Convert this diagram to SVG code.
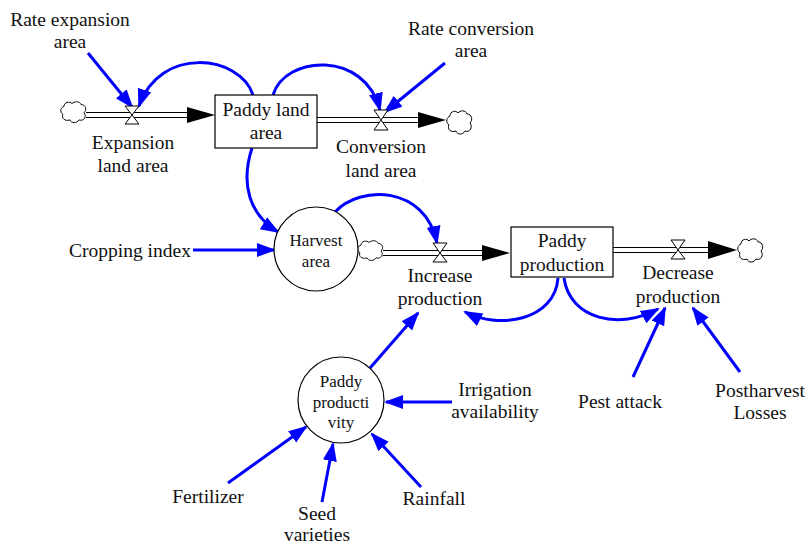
<svg xmlns="http://www.w3.org/2000/svg" width="807" height="545" viewBox="0 0 807 545">
<style>
text{font-family:'Liberation Serif','Times New Roman',serif;font-size:19.5px;fill:#111;text-anchor:middle}
text.sm{font-size:17px}
.link{fill:none;stroke:#0000FF;stroke-width:3;marker-end:url(#ah)}
.pipe{stroke:#000;stroke-width:1.2;fill:none}
.valve{fill:#fff;stroke:#000;stroke-width:1}
.cloud{fill:#fff;stroke:#000;stroke-width:1}
.box{fill:#fff;stroke:#000;stroke-width:1.2}
.aux{fill:#fff;stroke:#000;stroke-width:1.2}
</style>
<defs>
<marker id="ah" markerUnits="userSpaceOnUse" markerWidth="20" markerHeight="16" refX="17" refY="7" orient="auto">
<path d="M0,0 L19,7 L0,14 Z" fill="#0000FF"/>
</marker>
<path id="cl" d="M4,6 C4,1 10,0 12,3 C14,0 20,0 21,4 C26,4 27,10 24,13 C27,17 24,23 19,21 C17,25 11,25 10,21 C5,23 1,19 3,15 C-1,12 1,7 4,6 Z"/>
</defs>
<rect width="807" height="545" fill="#fff"/>

<g id="flows">
<line class="pipe" x1="86" y1="112.5" x2="190" y2="112.5"/>
<line class="pipe" x1="86" y1="117.5" x2="190" y2="117.5"/>
<polygon points="187,107 215,115 187,123" fill="#000"/>
<line class="pipe" x1="317" y1="117.5" x2="420" y2="117.5"/>
<line class="pipe" x1="317" y1="122.5" x2="420" y2="122.5"/>
<polygon points="418,112 446,120 418,128" fill="#000"/>
<line class="pipe" x1="383" y1="250.5" x2="485" y2="250.5"/>
<line class="pipe" x1="383" y1="255.5" x2="485" y2="255.5"/>
<polygon points="482,245 510,253 482,261" fill="#000"/>
<line class="pipe" x1="613" y1="247.5" x2="710" y2="247.5"/>
<line class="pipe" x1="613" y1="252.5" x2="710" y2="252.5"/>
<polygon points="708,241 737,250 708,259" fill="#000"/>
</g>

<g id="clouds">
<use href="#cl" class="cloud" transform="translate(60,101) scale(1,0.9)"/>
<use href="#cl" class="cloud" transform="translate(446,110)"/>
<use href="#cl" class="cloud" transform="translate(357,240) scale(1,0.85)"/>
<use href="#cl" class="cloud" transform="translate(737,238)"/>
</g>

<g id="connectors">
<path class="link" d="M88,53 L132,107"/>
<path class="link" d="M253,95 C240,55 160,45 139,106"/>
<path class="link" d="M273,95 C285,55 365,50 380,110"/>
<path class="link" d="M445,63 L385,112"/>
<path class="link" d="M252,148 C240,185 250,215 278,232"/>
<path class="link" d="M193,250 L274,250"/>
<path class="link" d="M335,212 C360,185 425,185 437,243"/>
<path class="link" d="M558,278 C555,320 500,330 465,312"/>
<path class="link" d="M564,278 C570,320 620,330 658,309"/>
<path class="link" d="M633,377 L665,308"/>
<path class="link" d="M740,372 L693,308"/>
<path class="link" d="M370,368 L418,313"/>
<path class="link" d="M452,402 L386,402"/>
<path class="link" d="M228,483 L306,427"/>
<path class="link" d="M322,502 L333,444"/>
<path class="link" d="M421,487 L372,434"/>
</g>

<g id="valve-expansion">
<path class="valve" d="M125,106 L139,106 L132,115 Z M132,115 L125,124 L139,124 Z"/>
<text x="133" y="149">Expansion</text>
<text x="133" y="172">land area</text>
</g>
<g id="valve-conversion">
<path class="valve" d="M374,110 L388,110 L381,120 Z M381,120 L374,130 L388,130 Z"/>
<text x="381" y="153">Conversion</text>
<text x="381" y="177">land area</text>
</g>
<g id="valve-increase">
<path class="valve" d="M433,243 L447,243 L440,253 Z M440,253 L433,262 L447,262 Z"/>
<text x="440" y="282">Increase</text>
<text x="440" y="305">production</text>
</g>
<g id="valve-decrease">
<path class="valve" d="M671,240 L685,240 L678,250 Z M678,250 L671,259 L685,259 Z"/>
<text x="678" y="279">Decrease</text>
<text x="678" y="303">production</text>
</g>

<g id="paddy-land-area">
<rect class="box" x="215" y="95" width="102" height="53"/>
<text x="266" y="116">Paddy land</text>
<text x="266" y="139">area</text>
</g>
<g id="paddy-production">
<rect class="box" x="511" y="227" width="102" height="50"/>
<text x="562" y="247">Paddy</text>
<text x="562" y="271">production</text>
</g>
<g id="harvest-area">
<circle class="aux" cx="316" cy="249" r="42"/>
<text class="sm" x="316" y="246">Harvest</text>
<text class="sm" x="316" y="267">area</text>
</g>
<g id="paddy-productivity">
<circle class="aux" cx="341" cy="400" r="43"/>
<text class="sm" x="341" y="387">Paddy</text>
<text class="sm" x="341" y="408">producti</text>
<text class="sm" x="341" y="428">vity</text>
</g>

<g id="rate-expansion-area"><text x="70" y="26">Rate expansion</text><text x="70" y="48">area</text></g>
<g id="rate-conversion-area"><text x="471" y="35">Rate conversion</text><text x="471" y="57">area</text></g>
<g id="cropping-index"><text x="130" y="257">Cropping index</text></g>
<g id="pest-attack"><text x="620" y="408">Pest attack</text></g>
<g id="postharvest-losses"><text x="760" y="397">Postharvest</text><text x="760" y="419">Losses</text></g>
<g id="irrigation-availability"><text x="495" y="396">Irrigation</text><text x="495" y="418">availability</text></g>
<g id="fertilizer"><text x="208" y="503">Fertilizer</text></g>
<g id="seed-varieties"><text x="317" y="520">Seed</text><text x="317" y="541">varieties</text></g>
<g id="rainfall"><text x="434" y="505">Rainfall</text></g>
</svg>
